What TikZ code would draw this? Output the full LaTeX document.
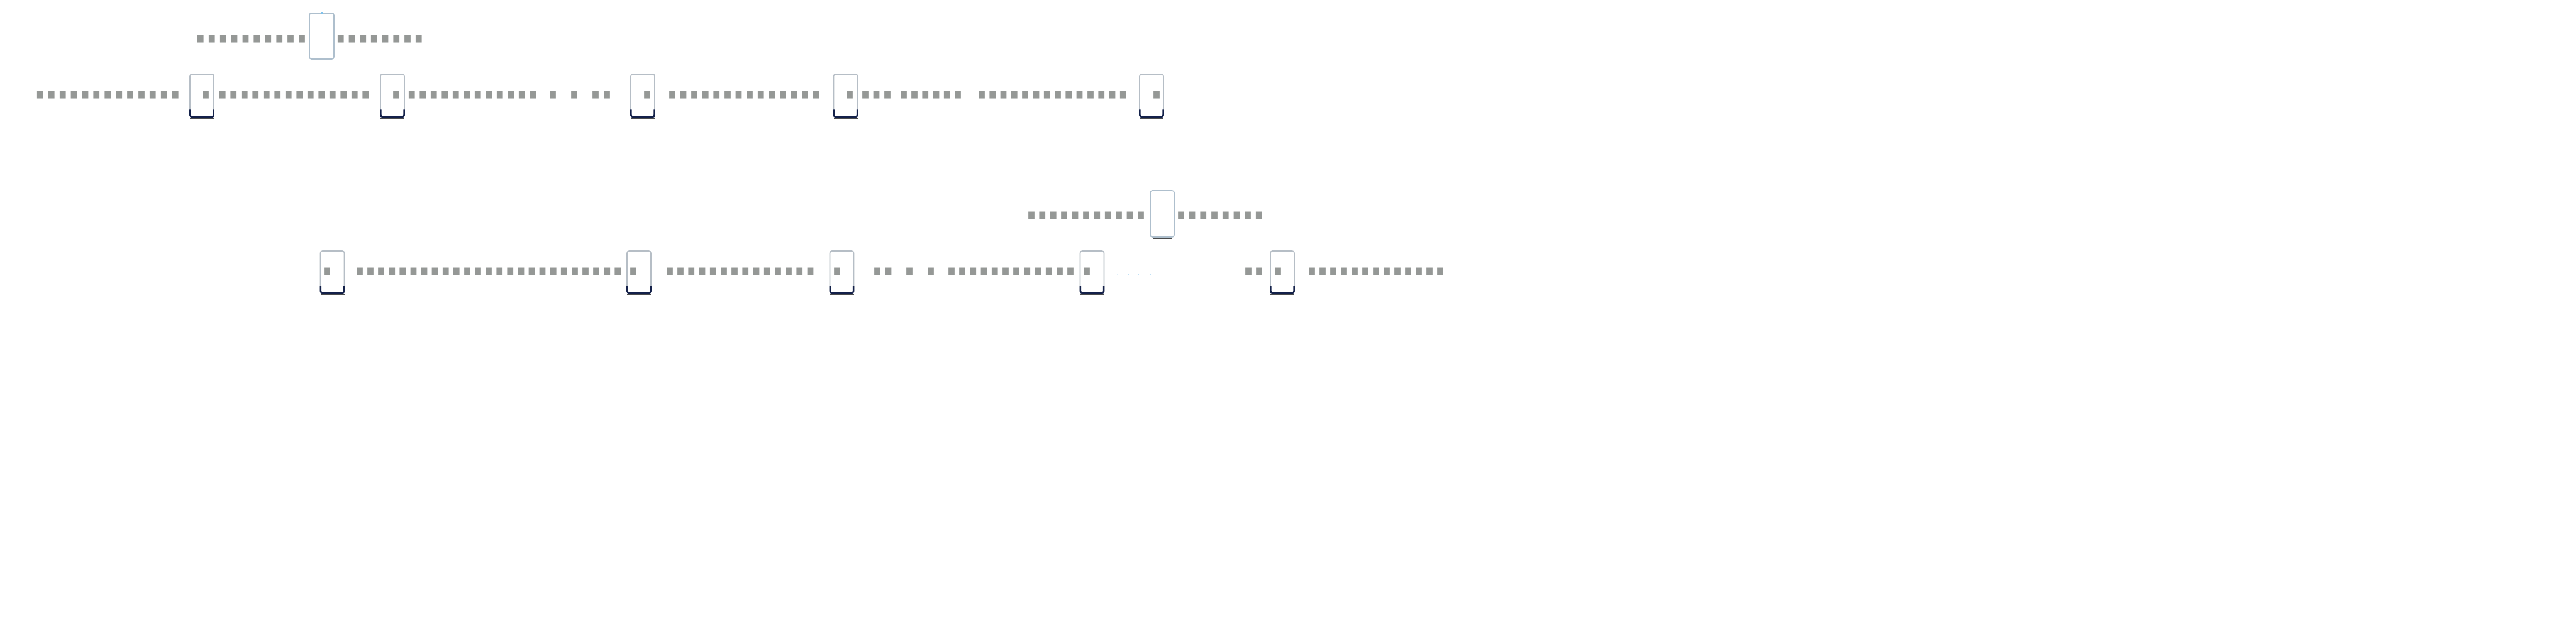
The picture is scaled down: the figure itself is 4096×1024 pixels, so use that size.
\documentclass[tikz,border=0pt]{standalone}
\usepackage{fontspec}
\usepackage{graphicx}
\newfontfamily\tofufont{DejaVu Sans}
\newlength\tpx \setlength\tpx{0.25pt}
\newlength\tofusp
\newcommand\tfu{\makebox[\tofusp]{\resizebox*{9.5\tpx}{12\tpx}{\tofufont █}}}
\ExplSyntaxOn
\NewDocumentCommand\tofus{mm}{\setlength\tofusp{#2\tpx}\prg_replicate:nn{#1}{\tfu}}
\ExplSyntaxOff
\definecolor{boxgray}{HTML}{B6BEC6}
\definecolor{headblue}{HTML}{AEBFCD}
\definecolor{navy}{HTML}{14214A}
\definecolor{darkline}{HTML}{4A4B4C}
\definecolor{tofugray}{HTML}{959896}
\definecolor{tickblue}{HTML}{7FC2EC}
\newcommand\keydeco[1]{%
  \draw[navy, line width=0.65pt, rounded corners=0.75pt, line cap=butt]
    ([yshift=2.9pt,xshift=0.1pt]#1.south west) -- ([xshift=0.1pt]#1.south west) -- ([xshift=-0.1pt]#1.south east) -- ([yshift=2.9pt,xshift=-0.1pt]#1.south east);
  \draw[darkline, line width=0.5pt] ([yshift=-0.55pt]#1.south west) -- ([yshift=-0.55pt]#1.south east);}
\begin{document}
\begin{tikzpicture}[x=0.25pt,y=-0.25pt,
  rowbox/.style={draw=boxgray, line width=0.4pt, rounded corners=0.8pt, inner sep=0pt, outer sep=0pt,
    minimum width=38\tpx, minimum height=68\tpx},
  headbox/.style={draw=headblue, line width=0.4pt, rounded corners=0.8pt, inner sep=0pt, outer sep=0pt,
    minimum width=39\tpx, minimum height=73\tpx},
  tofurow/.style={inner sep=0pt, outer sep=0pt, anchor=west, text=tofugray},
  tofu/.style={inner sep=0pt, outer sep=0pt, text=tofugray},
  dotmark/.style={fill=tickblue, inner sep=0pt, minimum size=1.5\tpx, circle}]
\useasboundingbox (0,0) rectangle (4096,1024);
\fill[white] (0,0) rectangle (4096,1024);

% ---------- header A ----------
\node[tofurow] (ha1) at (310,62) {\tofus{10}{17.9}};
\node[headbox] (hbA) at (511.5,57.5) {};
\draw[tickblue, line width=0.5pt] ([yshift=0.4pt]hbA.north) -- ([yshift=-0.2pt]hbA.north);
\node[tofurow] (ha2) at (533,62) {\tofus{8}{17.7}};

% ---------- row A ----------
\node[tofurow] (a1) at (55,151) {\tofus{13}{17.9}};
\node[rowbox] (b1) at (321,152) {}; \keydeco{b1}
\node[tofu] (a1in) at (327,151) {\tofus{1}{10}};
\node[tofurow] (a2) at (345,151) {\tofus{14}{17.5}};
\node[rowbox] (b2) at (624,152) {}; \keydeco{b2}
\node[tofu] (a2in) at (630,151) {\tofus{1}{10}};
\node[tofurow] (a3) at (646,151) {\tofus{12}{17.5}};
\node[tofu] (a3s1) at (879,151) {\tofus{1}{10}};
\node[tofu] (a3s2) at (913,151) {\tofus{1}{10}};
\node[tofurow] (a3p) at (938,151) {\tofus{2}{18}};
\node[rowbox] (b3) at (1022,152) {}; \keydeco{b3}
\node[tofu] (a3in) at (1029,151) {\tofus{1}{10}};
\node[tofurow] (a4) at (1060.2,151) {\tofus{14}{17.6}};
\node[rowbox] (b4) at (1344.5,152) {}; \keydeco{b4}
\node[tofu] (a4in) at (1351,151) {\tofus{1}{10}};
\node[tofurow] (a5) at (1367.25,151) {\tofus{3}{17.5}};
\node[tofurow] (a6) at (1428.4,151) {\tofus{6}{17.2}};
\node[tofurow] (a7) at (1552.35,151) {\tofus{14}{17.3}};
\node[rowbox] (b5) at (1831,152) {}; \keydeco{b5}
\node[tofu] (a7in) at (1839,151) {\tofus{1}{10}};

% ---------- header B ----------
\node[tofurow] (hb1) at (1631.3,343) {\tofus{11}{17.4}};
\node[headbox, minimum width=38\tpx, minimum height=74\tpx] (hbB) at (1848,340) {};
\draw[darkline, line width=0.5pt] ([yshift=-0.45pt,xshift=1pt]hbB.south west) -- ([yshift=-0.45pt,xshift=-1pt]hbB.south east);
\node[tofurow] (hb2) at (1869.15,343) {\tofus{8}{17.7}};

% ---------- row B ----------
\node[rowbox, minimum height=67\tpx] (c1) at (528.5,432.5) {}; \keydeco{c1}
\node[tofu] (c1in) at (520,432) {\tofus{1}{10}};
\node[tofurow] (r1) at (563.45,432) {\tofus{25}{17.1}};
\node[rowbox, minimum height=67\tpx] (c2) at (1016,432.5) {}; \keydeco{c2}
\node[tofu] (c2in) at (1007,432) {\tofus{1}{10}};
\node[tofurow] (r2) at (1056.4,432) {\tofus{14}{17.2}};
\node[rowbox, minimum height=67\tpx] (c3) at (1338.5,432.5) {}; \keydeco{c3}
\node[tofu] (c3in) at (1331,432) {\tofus{1}{10}};
\node[tofurow] (r3p) at (1386.25,432) {\tofus{2}{17.5}};
\node[tofu] (r3s1) at (1446,432) {\tofus{1}{10}};
\node[tofu] (r3s2) at (1480,432) {\tofus{1}{10}};
\node[tofurow] (r3) at (1504.4,432) {\tofus{12}{17.2}};
\node[rowbox, minimum height=67\tpx] (c4) at (1736.5,432.5) {}; \keydeco{c4}
\node[tofu] (c4in) at (1728,432) {\tofus{1}{10}};
\node[dotmark] (d1) at (1777,437) {};
\node[dotmark] (d2) at (1794,437) {};
\node[dotmark] (d3) at (1810,437) {};
\node[dotmark] (d4) at (1829,437) {};
\node[tofurow] (r4p) at (1976.5,432) {\tofus{2}{17}};
\node[rowbox, minimum height=67\tpx] (c5) at (2039,432.5) {}; \keydeco{c5}
\node[tofu] (c5in) at (2032,432) {\tofus{1}{10}};
\node[tofurow] (r4) at (2077.5,432) {\tofus{13}{17}};
\end{tikzpicture}
\end{document}
